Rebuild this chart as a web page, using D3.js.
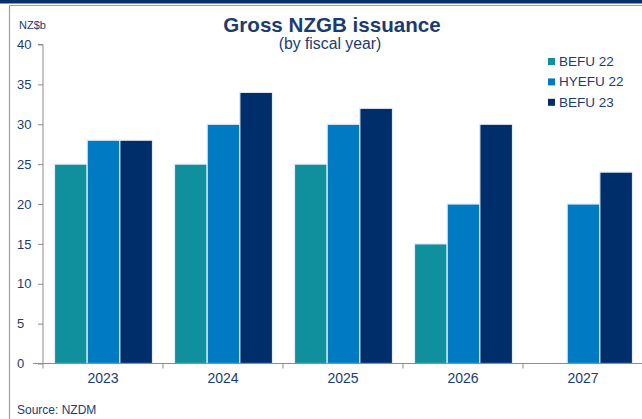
<!DOCTYPE html>
<html>
<head>
<meta charset="utf-8">
<script src="https://cdn.jsdelivr.net/npm/d3@7/dist/d3.min.js"></script>
<style>
  html, body { margin: 0; padding: 0; background: #fff; }
  svg { display: block; font-family: "Liberation Sans", Arial, sans-serif; }
</style>
</head>
<body>
<svg id="chart" width="642" height="419"></svg>
<script>
// Gross NZGB issuance by fiscal year, NZ$b
const years = ["2023", "2024", "2025", "2026", "2027"];
const seriesNames = ["BEFU 22", "HYEFU 22", "BEFU 23"];
const befu22 = [25, 25, 25, 15, null];
const hyefu22 = [28, 30, 30, 20, 20];
const befu23 = [28, 34, 32, 30, 24];
const yTicks = [0, 5, 10, 15, 20, 25, 30, 35, 40];
const colors = ["#0f909c", "#007bc3", "#002e6b"];

const seriesValues = [befu22, hyefu22, befu23];
const textColor = "#1c3b6f";

const svg = d3.select("#chart");

// page furniture: top band and frame
svg.append("rect").attr("x", 0).attr("y", 0).attr("width", 642).attr("height", 3.5).attr("fill", "#06306e");
svg.append("line").attr("x1", 9).attr("x2", 642).attr("y1", 5.5).attr("y2", 5.5).attr("stroke", "#a0a0a0").attr("stroke-width", 1.2);
svg.append("line").attr("x1", 9.5).attr("x2", 9.5).attr("y1", 5).attr("y2", 419).attr("stroke", "#a0a0a0").attr("stroke-width", 1.2);

const x = d3.scaleBand().domain(years).range([43, 643]);
const y = d3.scaleLinear().domain([0, 40]).range([363.5, 44.5]);
const inner = d3.scaleBand().domain(seriesNames).range([11.5, 109.5]);

// bars
seriesNames.forEach((name, si) => {
  const vals = seriesValues[si];
  svg.append("g").selectAll("rect")
    .data(years.map((yr, i) => ({ yr, v: vals[i] })).filter(d => d.v != null))
    .join("rect")
    .attr("x", d => x(d.yr) + inner(name))
    .attr("width", inner.bandwidth())
    .attr("y", d => y(d.v))
    .attr("height", d => y(0) - y(d.v))
    .attr("fill", colors[si])
    .attr("stroke", "#e4edf6")
    .attr("stroke-width", 1.2);
});

// y axis
const yAxis = svg.append("g").attr("transform", "translate(43,0)")
  .call(d3.axisLeft(y).tickValues(yTicks).tickSize(5).tickPadding(6).tickFormat(d3.format("d")));
yAxis.select(".domain").attr("stroke", "#8c8c8c").attr("d", `M-5,${y(40)}H0V${y(0)}`);
yAxis.selectAll(".tick line").attr("stroke", "#8c8c8c");
yAxis.selectAll(".tick text").attr("fill", textColor).attr("font-size", 13)
  .attr("text-anchor", "start").attr("x", -26);

// x axis
const xAxis = svg.append("g").attr("transform", `translate(0,${y(0)})`)
  .call(d3.axisBottom(x).tickSize(0).tickPadding(10));
xAxis.select(".domain").attr("stroke", "#8c8c8c").attr("d", `M33,0H642`);
xAxis.selectAll(".tick text").attr("fill", textColor).attr("font-size", 14);
// category separators
svg.append("g").selectAll("line")
  .data(years)
  .join("line")
  .attr("x1", d => x(d)).attr("x2", d => x(d))
  .attr("y1", y(0)).attr("y2", y(0) + 5)
  .attr("stroke", "#8c8c8c");

// titles
svg.append("text").attr("x", 332).attr("y", 32).attr("text-anchor", "middle")
  .attr("font-size", 20.6).attr("font-weight", "bold").attr("fill", textColor).text("Gross NZGB issuance");
svg.append("text").attr("x", 330).attr("y", 49).attr("text-anchor", "middle")
  .attr("font-size", 15.8).attr("fill", textColor).text("(by fiscal year)");
svg.append("text").attr("x", 19).attr("y", 29)
  .attr("font-size", 11).attr("fill", textColor).text("NZ$b");
svg.append("text").attr("x", 17).attr("y", 414)
  .attr("font-size", 12).attr("fill", textColor).text("Source: NZDM");

// legend
const legend = svg.append("g").attr("transform", "translate(548,66)");
seriesNames.forEach((name, i) => {
  const g = legend.append("g").attr("transform", `translate(0,${i * 20.4})`);
  g.append("rect").attr("x", 0).attr("y", -8).attr("width", 7).attr("height", 7).attr("fill", colors[i]);
  g.append("text").attr("x", 11).attr("y", 0).attr("font-size", 13.5).attr("fill", textColor).text(name);
});
</script>
</body>
</html>
